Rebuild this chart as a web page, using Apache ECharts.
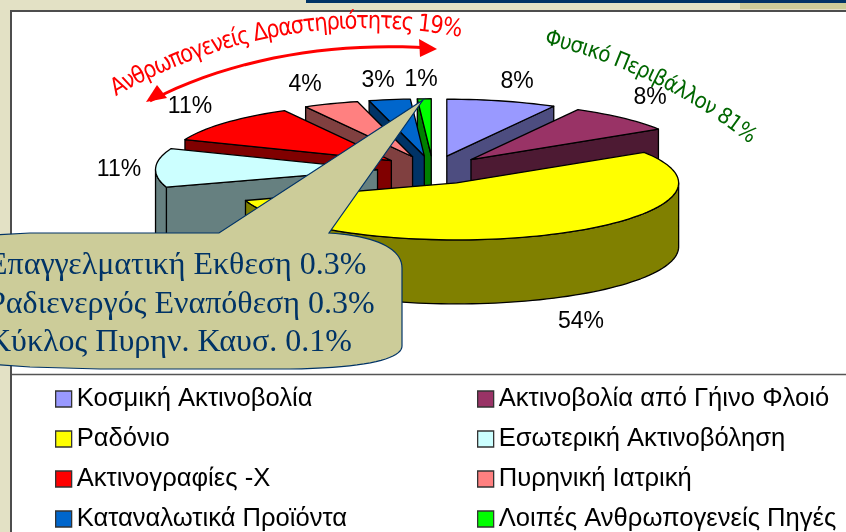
<!DOCTYPE html>
<html>
<head>
<meta charset="utf-8">
<style>
  html, body { margin: 0; padding: 0; background: #e3e1c5; }
  #chart { width: 846px; height: 532px; }
</style>
<script src="https://cdn.jsdelivr.net/npm/echarts@6/dist/echarts.min.js"></script>
</head>
<body>
<div id="chart"></div>
<script>
  // data, clockwise from 12 o'clock
  const categories = ['Κοσμική Ακτινοβολία', 'Ακτινοβολία από Γήινο Φλοιό', 'Ραδόνιο', 'Εσωτερική Ακτινοβόληση',
    'Ακτινογραφίες -Χ', 'Πυρηνική Ιατρική', 'Καταναλωτικά Προϊόντα', 'Λοιπές Ανθρωπογενείς Πηγές'];
  const values = [8, 8, 54, 11, 11, 4, 3, 1];
  const calloutLines = ['Επαγγελματική Εκθεση 0.3%', 'Ραδιενεργός Εναπόθεση 0.3%', 'Κύκλος Πυρην. Καυσ. 0.1%'];

  // colours and layout
  const colors = ['#9999ff', '#993366', '#ffff00', '#ccffff', '#ff0000', '#ff8080', '#0066cc', '#00ff00'];
  const wallColors = ['#4d4d80', '#4d1a33', '#808000', '#668080', '#800000', '#804040', '#003366', '#008000'];
  const drawOrder = [7, 6, 5, 4, 3, 0, 1, 2];
  const labelPos = [[517, 82], [650, 98], [581, 322], [119, 170], [190, 107], [305, 85], [378, 81], [421, 80]];
  const pie = { cx: 433, cy: 170, rx: 222, ry: 57, depth: 64, explode: 0.25 };

  const total = values.reduce((a, b) => a + b, 0);
  const rad = d => d * Math.PI / 180;

  function rimPoint(o, deg, dy) {
    return [o[0] + pie.rx * Math.sin(rad(deg)), o[1] - pie.ry * Math.cos(rad(deg)) + (dy || 0)];
  }

  function arcPoints(o, from, to, dy) {
    let pts = [];
    let n = Math.max(2, Math.ceil(Math.abs(to - from) / 2));
    for (let i = 0; i <= n; i++) {
      pts.push(rimPoint(o, from + (to - from) * i / n, dy));
    }
    return pts;
  }

  function poly(points, fill, z2) {
    return {
      type: 'polygon',
      shape: { points: points },
      z2: z2,
      style: { fill: fill, stroke: '#000', lineWidth: 1.3, lineJoin: 'round' }
    };
  }

  function makeRenderItem(i) {
    return function (params, api) {
      let value = api.value(0);
      let before = values.slice(0, i).reduce((a, b) => a + b, 0);
      let a0 = before / total * 360;
      let a1 = a0 + value / total * 360;
      let mid = rad((a0 + a1) / 2);
      let o = [
        pie.cx + pie.explode * pie.rx * Math.sin(mid),
        pie.cy - pie.explode * pie.ry * Math.cos(mid)
      ];
      let oLow = [o[0], o[1] + pie.depth];
      let children = [];

      // radial faces, only the ones that look to the viewer
      [[a0, a0 > 180], [a1, a1 < 180]].forEach(face => {
        if (!face[1]) return;
        let p = rimPoint(o, face[0]);
        let q = rimPoint(o, face[0], pie.depth);
        children.push(poly([o, p, q, oLow], wallColors[i], 1));
      });

      // outer wall on the front half
      let w0 = Math.max(a0, 90);
      let w1 = Math.min(a1, 270);
      if (w1 > w0) {
        let top = arcPoints(o, w0, w1);
        let low = arcPoints(o, w1, w0, pie.depth);
        children.push(poly(top.concat(low), wallColors[i], 2));
      }

      children.push(poly([o].concat(arcPoints(o, a0, a1)), colors[i], 3));
      children.push({
        type: 'text',
        z2: 4,
        x: labelPos[i][0],
        y: labelPos[i][1],
        style: {
          text: value + '%',
          fill: '#000',
          font: '23px "Liberation Sans"',
          textAlign: 'center',
          textVerticalAlign: 'middle'
        }
      });
      return { type: 'group', children: children };
    };
  }

  let measure = document.createElement('canvas').getContext('2d');

  // WordArt style text bent on a circle
  function arcText(text, font, color, cx, cy, r, from, to, stretch) {
    measure.font = font;
    let widths = Array.from(text).map(c => measure.measureText(c).width);
    let sum = widths.reduce((a, b) => a + b, 0);
    let len = rad(to - from) * r;
    let gap = (len - sum) / (widths.length - 1);
    let s = 0;
    return Array.from(text).map((c, k) => {
      let phi = rad(from) + (s + widths[k] / 2) / r;
      s += widths[k] + gap;
      return {
        type: 'text',
        z: 50,
        x: cx + r * Math.sin(phi),
        y: cy - r * Math.cos(phi),
        rotation: -phi,
        scaleY: stretch,
        style: { text: c, font: font, fill: color, textAlign: 'center', textVerticalAlign: 'bottom' }
      };
    });
  }

  function bezier(p0, c1, c2, p1) {
    let pts = [];
    for (let k = 0; k <= 20; k++) {
      let t = k / 20, u = 1 - t;
      pts.push([
        u * u * u * p0[0] + 3 * u * u * t * c1[0] + 3 * u * t * t * c2[0] + t * t * t * p1[0],
        u * u * u * p0[1] + 3 * u * u * t * c1[1] + 3 * u * t * t * c2[1] + t * t * t * p1[1]
      ]);
    }
    return pts;
  }

  let myChart = echarts.init(document.getElementById('chart'), null, { renderer: 'canvas' });

  const calloutPoints = [[-40, 240], [-5, 235], [30, 233], [219, 233], [423, 100], [329, 233]]
    .concat(bezier([329, 233], [375, 236], [402, 248], [402, 268]))
    .concat(bezier([402, 346], [402, 358], [370, 368], [290, 369]))
    .concat([[100, 369], [30, 367], [-40, 362]]);

  const legendBase = {
    orient: 'vertical',
    top: 380,
    height: 152,
    icon: 'rect',
    itemWidth: 16,
    itemHeight: 16,
    itemGap: 12,
    selectedMode: false,
    itemStyle: { borderColor: '#333', borderWidth: 1.3 },
    textStyle: { fontFamily: 'Liberation Sans', fontSize: 25.6, color: '#000', lineHeight: 24, padding: [4, 0, 0, 0] }
  };

  let option = {
    animation: false,
    backgroundColor: '#e3e1c5',
    legend: [
      Object.assign({}, legendBase, { left: 50, data: categories.filter((c, i) => i % 2 === 0) }),
      Object.assign({}, legendBase, { left: 472, data: categories.filter((c, i) => i % 2 === 1) })
    ],
    graphic: {
      elements: [
        { type: 'rect', z: -5, shape: { x: 306, y: 0, width: 540, height: 3 }, style: { fill: '#003366' } },
        { type: 'rect', z: -5, shape: { x: 740, y: 3, width: 106, height: 6 }, style: { fill: '#cccc99' } },
        { type: 'rect', z: -4, shape: { x: 11, y: 11, width: 860, height: 600 }, style: { fill: '#fff', stroke: '#4d4d4d', lineWidth: 2 } },
        { type: 'line', z: -3, shape: { x1: 12, y1: 374.5, x2: 846, y2: 374.5 }, style: { stroke: '#555', lineWidth: 1.5 } },
        {
          type: 'polyline', z: 50,
          shape: { points: bezier([150, 101], [235, 56], [340, 42], [430, 48]) },
          style: { fill: 'none', stroke: '#ff0000', lineWidth: 3 }
        },
        { type: 'polygon', z: 50, shape: { points: [[146, 102], [157, 85], [167, 98]] }, style: { fill: '#ff0000' } },
        { type: 'polygon', z: 50, shape: { points: [[437, 49], [419, 39], [420, 57]] }, style: { fill: '#ff0000' } },
        {
          type: 'polygon', z: 60,
          shape: { points: calloutPoints },
          style: { fill: '#cccc99', stroke: '#003366', lineWidth: 1.2 }
        }
      ].concat(
        calloutLines.map((t, k) => ({
          type: 'text', z: 61, x: -12, y: 266 + k * 38.5,
          style: { text: t, font: '32px "Liberation Serif"', fill: '#003366', textAlign: 'left', textVerticalAlign: 'middle' }
        })),
        arcText('Ανθρωπογενείς Δραστηριότητες 19%', '21px "DejaVu Sans"', '#ff0000', 368, 530, 496, -30.2, 10.7, 1.15),
        arcText('Φυσικό Περιβάλλον 81%', '20px "DejaVu Sans"', '#006600', 428.5, 544, 508, 13, 38.8, 1.1)
      )
    },
    series: drawOrder.map((i, k) => ({
      type: 'custom',
      name: categories[i],
      coordinateSystem: 'none',
      z: 2 + k,
      silent: true,
      itemStyle: { color: colors[i] },
      data: [[values[i]]],
      renderItem: makeRenderItem(i)
    }))
  };

  myChart.setOption(option);
</script>
</body>
</html>
